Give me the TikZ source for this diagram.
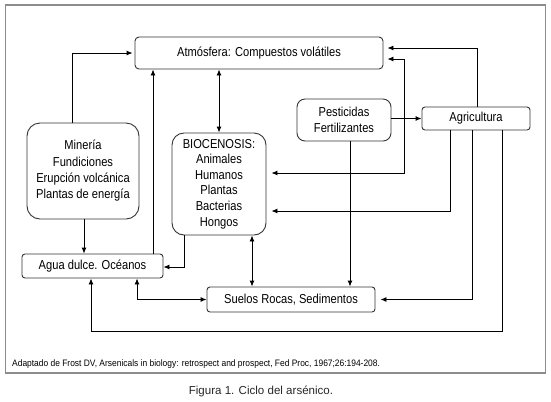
\documentclass[tikz,border=0pt]{standalone}
\usepackage{fontspec}
\setmainfont{Liberation Sans}
\newfontfamily\labfont[FakeStretch=0.86]{Liberation Sans}
\newfontfamily\notefont[FakeStretch=0.9]{Liberation Sans}
\usetikzlibrary{arrows.meta}
\tikzset{
  box/.style={draw=black!80, line width=0.9bp, inner sep=0pt, align=center,
    font=\labfont\fontsize{13}{16}\selectfont},
  arr/.style={draw=black, line width=0.9bp, -{Latex[length=6bp,width=5bp]}},
  arrtwo/.style={draw=black, line width=0.9bp, {Latex[length=6bp,width=5bp]}-{Latex[length=6bp,width=5bp]}},
}
\begin{document}
\begin{tikzpicture}[x=1bp,y=-1bp]
\useasboundingbox (0,0) rectangle (551,401);
\draw[black!45, line width=1.5bp] (5.5,5) rectangle (545.5,373);

\node[box, rounded corners=4bp, minimum width=248bp, minimum height=32bp] (atm) at (259,53) {Atmósfera: Compuestos volátiles};
\node[box, rounded corners=13bp, minimum width=112bp, minimum height=96bp,
  font=\labfont\fontsize{13}{16.4}\selectfont] (min) at (83,171)
  {Minería\\Fundiciones\\Erupción volcánica\\Plantas de energía};
\node[box, rounded corners=3bp, minimum width=141bp, minimum height=24bp] (agua) at (92.5,266) {Agua dulce. Océanos};
\node[box, rounded corners=12bp, minimum width=94bp, minimum height=102bp,
  font=\labfont\fontsize{13}{15.6}\selectfont] (bio) at (219,184)
  {BIOCENOSIS:\\Animales\\Humanos\\Plantas\\Bacterias\\Hongos};
\node[box, rounded corners=8bp, minimum width=94bp, minimum height=42bp] (pest) at (344,120) {Pesticidas\\Fertilizantes};
\node[box, rounded corners=3bp, minimum width=108bp, minimum height=23bp] (agri) at (476,118.5) {Agricultura};
\node[box, rounded corners=3bp, minimum width=168bp, minimum height=25bp] (suelos) at (291,299.5) {Suelos Rocas, Sedimentos};

\coordinate (j1) at (404,59);
\coordinate (j2) at (404,173);
\coordinate (loop) at (91,331);

% connectors
\draw[arr, shorten >=2bp] ([xshift=-11bp]min.north) |- (atm.west);
\draw[arr] ([xshift=1bp]min.south) -- ([xshift=1bp]min.south |- agua.north);
\draw[arr] ([xshift=60.5bp]agua.north) -- ([xshift=60.5bp]agua.north |- atm.south);
\draw[arrtwo] (atm.south -| bio.north) -- (bio.north);
\draw[arr] ([xshift=-35bp]bio.south) |- ([yshift=-1bp]agua.east);
\draw[arrtwo] ([xshift=33bp]bio.south) -- ([xshift=33bp]bio.south |- suelos.north);
\draw[arrtwo] ([xshift=44.5bp]agua.south) |- (suelos.west);
\draw[arr] (pest.east |- agri.west) -- (agri.west);
\draw[arr] ([xshift=6bp]pest.south) -- ([xshift=6bp]pest.south |- suelos.north);
\draw[arrtwo, shorten <=4bp, shorten >=5bp] (atm.east |- j1) -- (j1) -- (j2) -- (bio.east |- j2);
\draw[arr, shorten >=4bp] ([xshift=1.5bp]agri.north) |- ([yshift=5bp]atm.east);
\draw[arr, shorten >=5bp] ([xshift=-26bp]agri.south) |- ([yshift=-27bp]bio.east);
\draw[arr, shorten >=5bp] ([xshift=-4bp]agri.south) |- (suelos.east);
\draw[arr] ([xshift=26bp]agri.south) |- (loop) -- (loop |- agua.south);

\node[anchor=west, inner sep=0pt, font=\notefont\fontsize{9.4}{11}\selectfont] (note) at (12,364)
  {Adaptado de Frost DV, Arsenicals in biology: retrospect and prospect, Fed Proc, 1967;26:194-208.};
\node[inner sep=0pt, text=black!85, font=\fontsize{11.6}{14}\selectfont] (fig) at (261,391) {Figura 1. Ciclo del arsénico.};
\end{tikzpicture}
\end{document}
